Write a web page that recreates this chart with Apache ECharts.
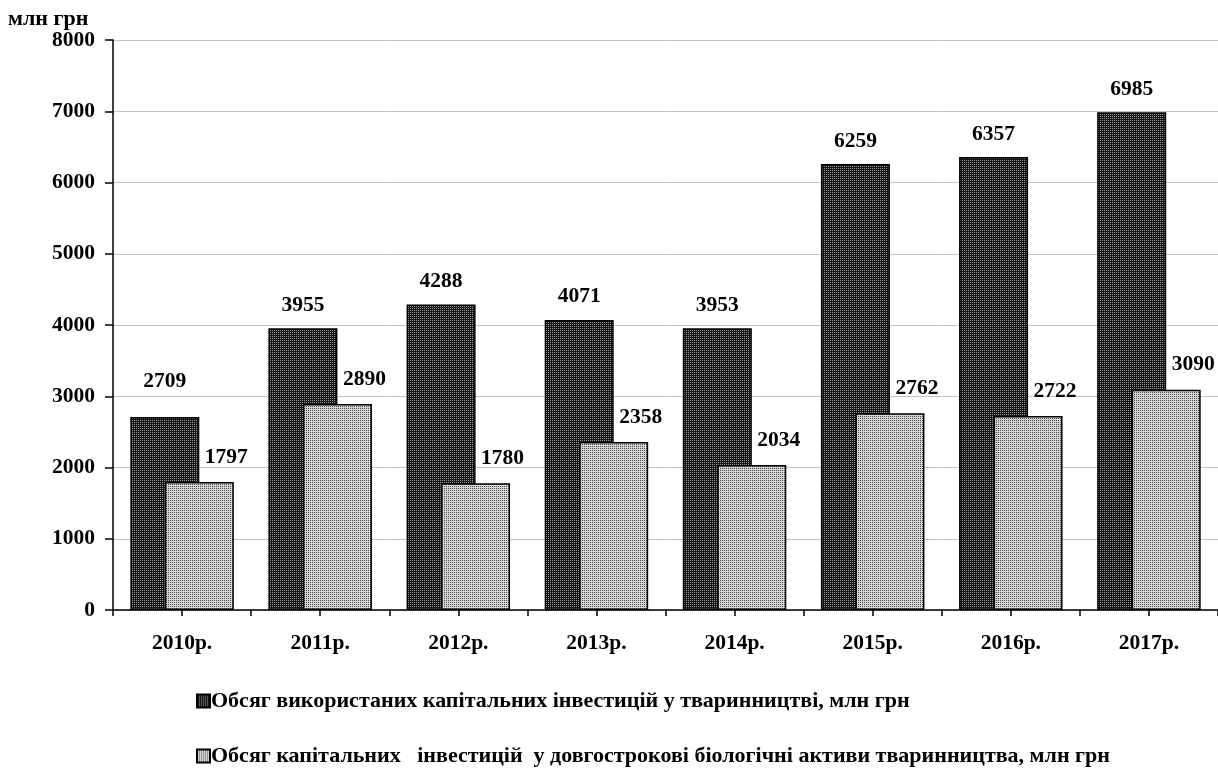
<!DOCTYPE html>
<html>
<head>
<meta charset="utf-8">
<script src="https://cdn.jsdelivr.net/npm/echarts@6/dist/echarts.min.js"></script>
<style>html,body{margin:0;padding:0;background:#fff;}#c{width:1218px;height:772px;}</style>
</head>
<body>
<div id="c"></div>
<script>
var categories = ['2010р.','2011р.','2012р.','2013р.','2014р.','2015р.','2016р.','2017р.'];
var usedInvest = [2709, 3955, 4288, 4071, 3953, 6259, 6357, 6985];
var bioInvest = [1797, 2890, 1780, 2358, 2034, 2762, 2722, 3090];
var seriesNames = ['Обсяг використаних капітальних інвестицій у тваринництві, млн грн',
                   'Обсяг капітальних   інвестицій  у довгострокові біологічні активи тваринництва, млн грн'];
var yTicks = {min: 0, max: 8000, interval: 1000};
var unitLabel = 'млн грн';

function makePattern(bg, dot) {
  var c = document.createElement('canvas');
  c.width = 2; c.height = 2;
  var ctx = c.getContext('2d');
  ctx.fillStyle = bg; ctx.fillRect(0, 0, 2, 2);
  ctx.fillStyle = dot;
  ctx.fillRect(0, 0, 1, 1);
  return c;
}
var darkPat = {image: makePattern('#141414', '#9a9a9a'), repeat: 'repeat'};
var lightPat = {image: makePattern('#d6d6d6', '#4a4a4a'), repeat: 'repeat'};

var FONT = '"Liberation Serif", "Times New Roman", serif';
var FS = 21.5;
var halfTicks = [];
categories.forEach(function (c) { halfTicks.push(c + 'a', c + 'b'); });

var chart = echarts.init(document.getElementById('c'));
chart.setOption({
  animation: false,
  backgroundColor: '#fff',
  textStyle: {fontFamily: FONT},
  title: {
    text: unitLabel, left: 3, top: 3,
    textStyle: {fontFamily: FONT, fontWeight: 'bold', fontSize: 22, color: '#000'}
  },
  grid: {left: 113, top: 40, width: 1107, bottom: 162, containLabel: false},
  legend: {
    orient: 'vertical', left: 191, top: 685, itemGap: 33,
    itemWidth: 13, itemHeight: 13, icon: 'rect',
    textStyle: {fontFamily: FONT, fontWeight: 'bold', fontSize: 22, color: '#000', padding: [0, 0, 0, -4]},
    data: seriesNames
  },
  xAxis: [{
    type: 'category', data: categories,
    axisLine: {lineStyle: {color: '#000', width: 1.5}},
    axisTick: {show: false},
    axisLabel: {color: '#000', fontFamily: FONT, fontWeight: 'bold', fontSize: FS, margin: 22}
  }, {
    type: 'category', data: halfTicks, position: 'bottom',
    axisLine: {show: false},
    axisTick: {show: true, interval: 0, length: 6, lineStyle: {color: '#000', width: 1.5}},
    axisLabel: {show: false},
    splitLine: {show: false}
  }],
  yAxis: {
    type: 'value', min: yTicks.min, max: yTicks.max, interval: yTicks.interval,
    axisLine: {show: true, lineStyle: {color: '#000', width: 1.5}},
    axisTick: {show: true, length: 8, lineStyle: {color: '#000', width: 1.5}},
    axisLabel: {color: '#000', fontFamily: FONT, fontWeight: 'bold', fontSize: FS, margin: 18,
                formatter: function (v) { return String(v); }},
    splitLine: {lineStyle: {color: '#c4c4c4', width: 1}}
  },
  series: [{
    name: seriesNames[0], type: 'bar', xAxisIndex: 0,
    barWidth: 69, barGap: '-50%',
    data: usedInvest.map(function (v, i) { return i === 0 ? {value: v, label: {offset: [0, -13]}} : v; }),
    itemStyle: {color: darkPat, borderColor: '#000', borderWidth: 1.5},
    label: {show: true, position: 'top', distance: 12, color: '#000', fontFamily: FONT, fontWeight: 'bold', fontSize: FS}
  }, {
    name: seriesNames[1], type: 'bar', xAxisIndex: 0,
    barWidth: 69, barGap: '-50%',
    data: bioInvest,
    itemStyle: {color: lightPat, borderColor: '#000', borderWidth: 1.5},
    label: {show: true, position: 'top', distance: 14, offset: [27, 0], color: '#000', fontFamily: FONT, fontWeight: 'bold', fontSize: FS}
  }]
});
</script>
</body>
</html>
